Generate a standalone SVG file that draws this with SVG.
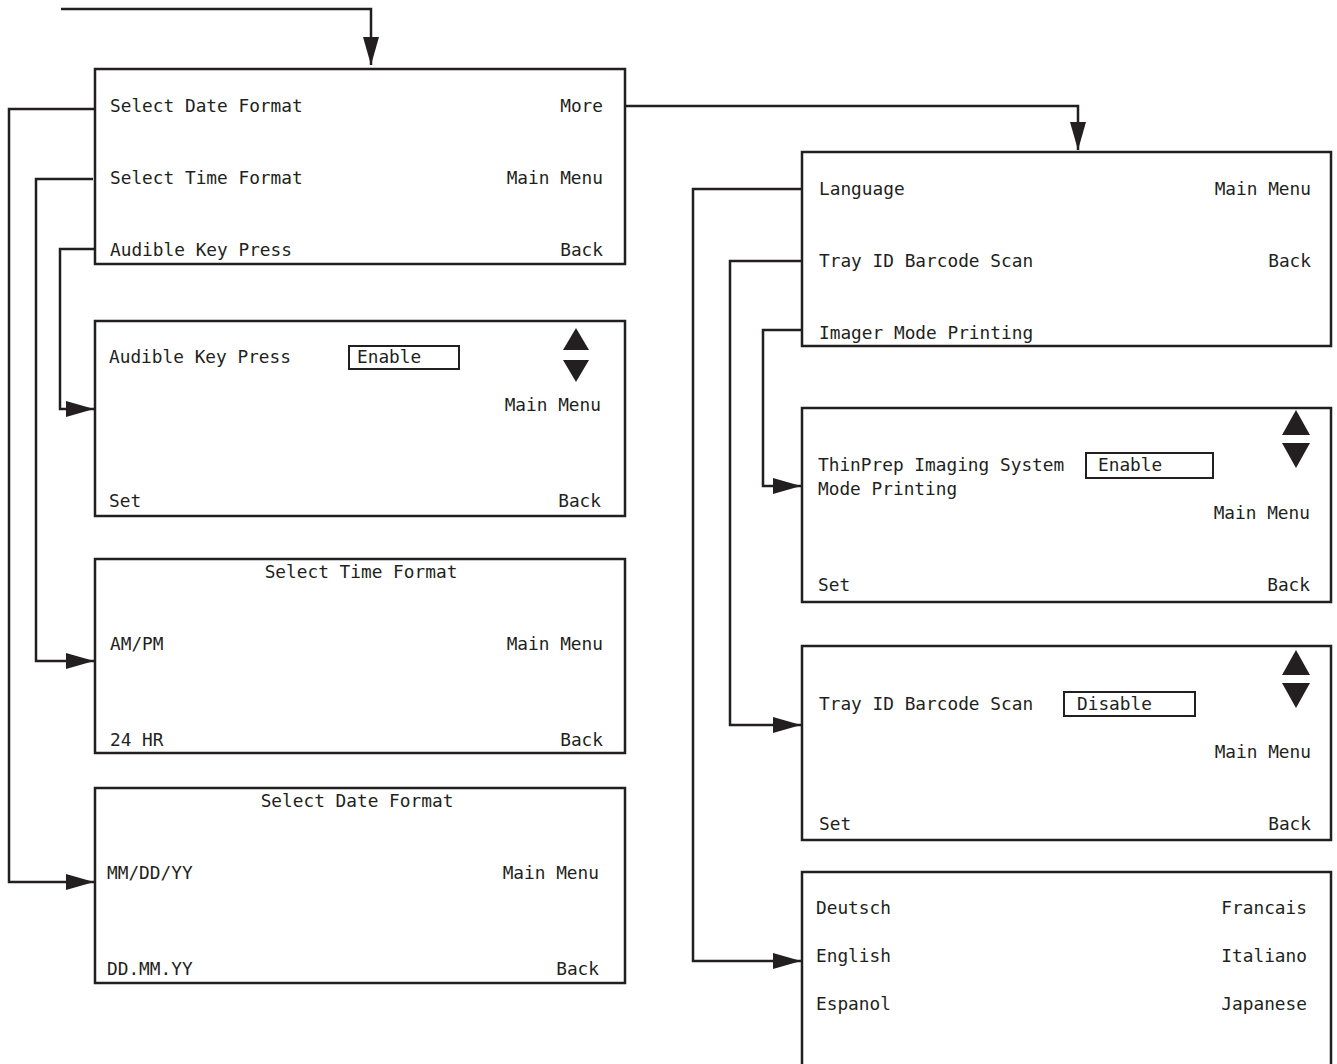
<svg xmlns="http://www.w3.org/2000/svg" width="1337" height="1064" viewBox="0 0 1337 1064">
<style>
.box{fill:#fff;stroke:#231f20;stroke-width:2.5}
.sel{fill:none;stroke:#231f20;stroke-width:2}
.tri{fill:#231f20}
text{font-family:"DejaVu Sans Mono","Liberation Mono",monospace;font-size:17.8px;fill:#231f20}
.r{text-anchor:end}
.m{text-anchor:middle}
.c{fill:none;stroke:#231f20;stroke-width:2.5}
</style>
<defs>
<marker id="ah" markerUnits="userSpaceOnUse" markerWidth="28" markerHeight="16" refX="28" refY="8" orient="auto">
<path d="M0,0 L28,8 L0,16 Z" fill="#231f20"/>
</marker>
</defs>
<rect width="1337" height="1064" fill="#fff"/>

<g id="connectors">
<path class="c" d="M61,9 H371 V65" marker-end="url(#ah)"/>
<path class="c" d="M625,106 H1078 V150" marker-end="url(#ah)"/>
<path class="c" d="M95,109 H9 V882 H94" marker-end="url(#ah)"/>
<path class="c" d="M93,179 H36 V661 H94" marker-end="url(#ah)"/>
<path class="c" d="M95,249 H60 V409 H94" marker-end="url(#ah)"/>
<path class="c" d="M802,189 H693 V961 H801" marker-end="url(#ah)"/>
<path class="c" d="M802,261 H730 V725 H801" marker-end="url(#ah)"/>
<path class="c" d="M802,330 H763 V486 H801" marker-end="url(#ah)"/>
</g>

<g id="node-main">
<rect class="box" x="95" y="69" width="530" height="195"/>
<text x="110" y="112">Select Date Format</text>
<text x="110" y="184">Select Time Format</text>
<text x="110" y="256">Audible Key Press</text>
<text class="r" x="603" y="112">More</text>
<text class="r" x="603" y="184">Main Menu</text>
<text class="r" x="603" y="256">Back</text>
</g>

<g id="node-audible">
<rect class="box" x="95" y="321" width="530" height="195"/>
<text x="109" y="363">Audible Key Press</text>
<rect class="sel" x="349" y="346" width="110" height="23"/>
<text x="357" y="363">Enable</text>
<path class="tri" d="M576,328 L589,350 L563,350 Z"/>
<path class="tri" d="M563,360 L589,360 L576,382 Z"/>
<text class="r" x="601" y="411">Main Menu</text>
<text x="109" y="507">Set</text>
<text class="r" x="601" y="507">Back</text>
</g>

<g id="node-time">
<rect class="box" x="95" y="559" width="530" height="194"/>
<text class="m" x="361" y="578">Select Time Format</text>
<text x="110" y="650">AM/PM</text>
<text class="r" x="603" y="650">Main Menu</text>
<text x="110" y="746">24 HR</text>
<text class="r" x="603" y="746">Back</text>
</g>

<g id="node-date">
<rect class="box" x="95" y="788" width="530" height="195"/>
<text class="m" x="357" y="807">Select Date Format</text>
<text x="107" y="879">MM/DD/YY</text>
<text class="r" x="599" y="879">Main Menu</text>
<text x="107" y="975">DD.MM.YY</text>
<text class="r" x="599" y="975">Back</text>
</g>

<g id="node-more">
<rect class="box" x="802" y="152" width="529" height="194"/>
<text x="819" y="195">Language</text>
<text class="r" x="1311" y="195">Main Menu</text>
<text x="819" y="267">Tray ID Barcode Scan</text>
<text class="r" x="1311" y="267">Back</text>
<text x="819" y="339">Imager Mode Printing</text>
</g>

<g id="node-imager">
<rect class="box" x="802" y="408" width="529" height="194"/>
<path class="tri" d="M1296,410 L1310,435 L1282,435 Z"/>
<path class="tri" d="M1282,443 L1310,443 L1296,468 Z"/>
<text x="818" y="471">ThinPrep Imaging System</text>
<text x="818" y="495">Mode Printing</text>
<rect class="sel" x="1086" y="453" width="127" height="25"/>
<text x="1098" y="471">Enable</text>
<text class="r" x="1310" y="519">Main Menu</text>
<text x="818" y="591">Set</text>
<text class="r" x="1310" y="591">Back</text>
</g>

<g id="node-tray">
<rect class="box" x="802" y="646" width="529" height="194"/>
<path class="tri" d="M1296,650 L1310,675 L1282,675 Z"/>
<path class="tri" d="M1282,683 L1310,683 L1296,708 Z"/>
<text x="819" y="710">Tray ID Barcode Scan</text>
<rect class="sel" x="1064" y="692" width="131" height="24"/>
<text x="1077" y="710">Disable</text>
<text class="r" x="1311" y="758">Main Menu</text>
<text x="819" y="830">Set</text>
<text class="r" x="1311" y="830">Back</text>
</g>

<g id="node-language">
<rect class="box" x="802" y="872" width="529" height="200"/>
<text x="816" y="914">Deutsch</text>
<text class="r" x="1307" y="914">Francais</text>
<text x="816" y="962">English</text>
<text class="r" x="1307" y="962">Italiano</text>
<text x="816" y="1010">Espanol</text>
<text class="r" x="1307" y="1010">Japanese</text>
</g>
</svg>
